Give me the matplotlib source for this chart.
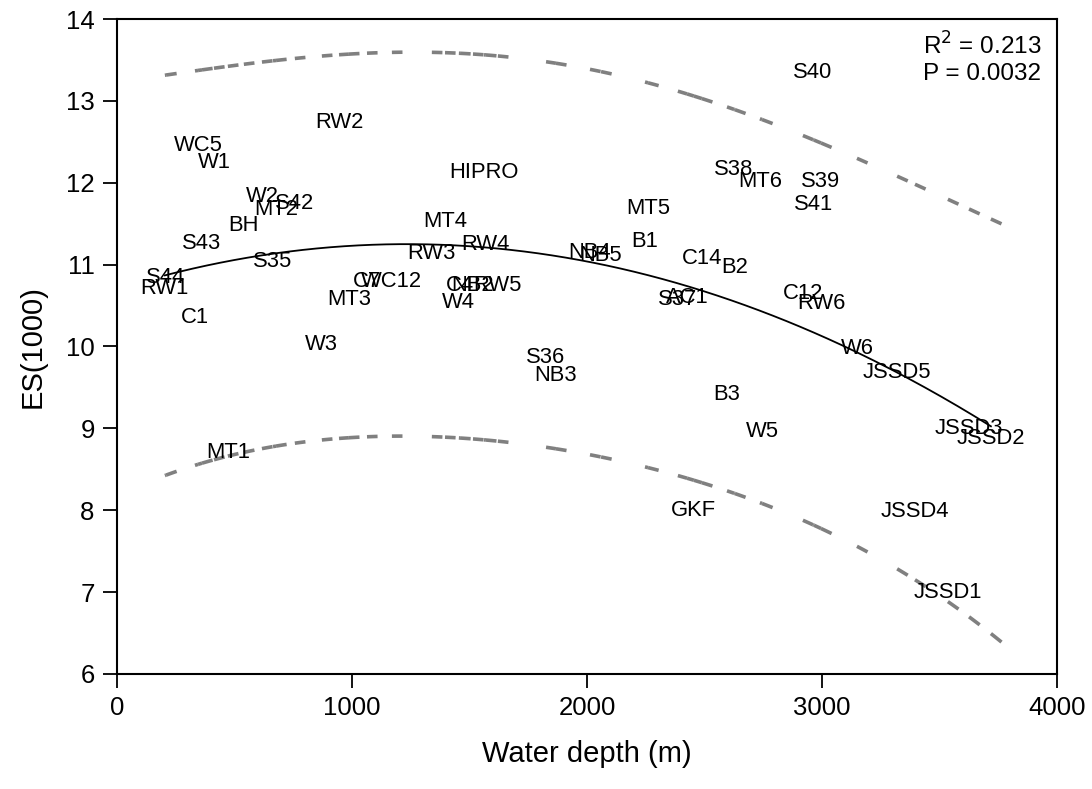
import numpy as np
import matplotlib
matplotlib.use("Agg")
import matplotlib.pyplot as plt

plt.rcParams['font.family'] = ['Liberation Sans', 'DejaVu Sans']

labels = ["WC5", "W1", "RW2", "W2", "S42", "MT2", "BH", "S43", "S35", "S44", "RW1", "C1",
          "C7", "WC12", "MT3", "W3", "HIPRO", "MT4", "RW3", "RW4", "C4", "NB2", "RW5", "W4",
          "NB4", "NB5", "B1", "MT5", "S36", "NB3", "S37", "AC1", "C14", "B2", "S38", "MT6",
          "S39", "S41", "C12", "RW6", "W6", "JSSD5", "B3", "W5", "JSSD3", "JSSD2", "GKF",
          "JSSD4", "JSSD1", "MT1", "S40"]
depth = [345, 413, 945, 617, 757, 677, 540, 362, 664, 209, 204, 332,
         1064, 1170, 987, 872, 1562, 1396, 1340, 1570, 1460, 1515, 1621, 1455,
         2013, 2060, 2247, 2260, 1826, 1868, 2387, 2426, 2489, 2630, 2626, 2736,
         2996, 2966, 2919, 2996, 3149, 3320, 2596, 2745, 3626, 3719, 2455,
         3396, 3536, 472, 2962]
es = [12.45, 12.25, 12.73, 11.83, 11.75, 11.67, 11.48, 11.26, 11.04, 10.84, 10.71, 10.35,
      10.79, 10.79, 10.57, 10.02, 12.12, 11.53, 11.13, 11.24, 10.74, 10.74, 10.74, 10.54,
      11.15, 11.11, 11.28, 11.69, 9.87, 9.64, 10.57, 10.60, 11.08, 10.96, 12.16, 12.01,
      12.01, 11.73, 10.65, 10.52, 9.98, 9.68, 9.41, 8.96, 9.00, 8.88, 8.00,
      7.99, 6.99, 8.70, 13.35]

r2_text = r"R$^2$ = 0.213"
p_text = "P = 0.0032"

x = np.array(depth, dtype=float)
y = np.array(es, dtype=float)

# quadratic regression and 95% prediction band
coef = np.polyfit(x, y, 2)
fit = np.poly1d(coef)
n = len(x)
X = np.column_stack([np.ones(n), x, x ** 2])
resid = y - fit(x)
s2 = np.sum(resid ** 2) / (n - 3)
XtX_inv = np.linalg.inv(X.T @ X)
t_val = 2.0106


def band(xv):
    xv = np.atleast_1d(xv)
    Xv = np.column_stack([np.ones(len(xv)), xv, xv ** 2])
    se = np.sqrt(s2 * (1 + np.einsum('ij,jk,ik->i', Xv, XtX_inv, Xv)))
    return fit(xv) - t_val * se, fit(xv) + t_val * se


fig = plt.figure(figsize=(10.92, 7.89), dpi=100)
ax = fig.add_axes([0.1071, 0.1458, 0.8608, 0.8301])

xs = np.sort(x)
xl = np.linspace(xs[0], xs[-1], 300)
ax.plot(xl, fit(xl), color='black', lw=1.3, zorder=3)

dash_len = 45.0
for i, xi in enumerate(xs):
    xe = xi + dash_len
    if i + 1 < len(xs):
        xe = min(xe, xs[i + 1])
    if xe <= xi:
        continue
    seg = np.linspace(xi, xe, 8)
    lo, hi = band(seg)
    ax.plot(seg, lo, color='#808080', lw=2.6, solid_capstyle='butt', zorder=2)
    ax.plot(seg, hi, color='#808080', lw=2.6, solid_capstyle='butt', zorder=2)

for lab, xi, yi in zip(labels, x, y):
    ax.text(xi, yi, lab, ha='center', va='center', fontsize=15.8, color='black', zorder=4)

ax.text(0.857, 0.959, r2_text, transform=ax.transAxes, ha='left', va='center', fontsize=17.5)
ax.text(0.857, 0.916, p_text, transform=ax.transAxes, ha='left', va='center', fontsize=17.5)

ax.set_xlim(0, 4000)
ax.set_ylim(6, 14)
ax.set_xticks([0, 1000, 2000, 3000, 4000])
ax.set_yticks([6, 7, 8, 9, 10, 11, 12, 13, 14])
ax.tick_params(axis='both', which='major', direction='out', length=10, width=1.3,
               labelsize=18.5, pad=6)
for sp in ax.spines.values():
    sp.set_linewidth(1.5)
ax.set_xlabel("Water depth (m)", fontsize=21, labelpad=14)
ax.set_ylabel("ES(1000)", fontsize=21, labelpad=14)

fig.savefig("out.png", dpi=100)
